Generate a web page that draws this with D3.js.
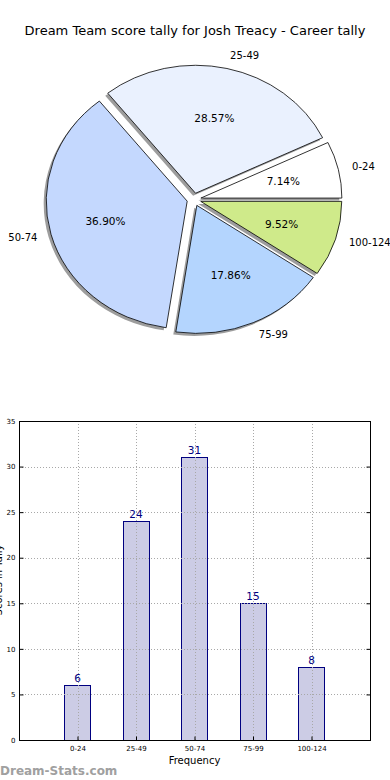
<!DOCTYPE html>
<html>
<head>
<meta charset="utf-8">
<script src="https://cdn.jsdelivr.net/npm/d3@7"></script>
<style>
  body { margin: 0; background: #fff; }
  text { font-family: "DejaVu Sans", sans-serif; }
</style>
</head>
<body>
<script>
/*global d3*/

var width = 390, height = 780;

// data
var categories = ["0-24", "25-49", "50-74", "75-99", "100-124"];
var counts = [6, 24, 31, 15, 8];
var sliceColors = ["#ffffff", "#eaf1fe", "#c4d8fe", "#b4d5fe", "#cfea8a"];
var yTicks = [0, 5, 10, 15, 20, 25, 30, 35];

var title = "Dream Team score tally for Josh Treacy - Career tally";

var svg = d3.select("body")
    .append("svg")
    .attr("width", width)
    .attr("height", height);

svg.append("text")
    .attr("x", 195)
    .attr("y", 35)
    .attr("text-anchor", "middle")
    .style("font-size", "13px")
    .text(title);

// ---- pie (matplotlib style: starts at 3 o'clock, counter clockwise, oval) ----
var cx = 194, cy = 199.5, rx = 141, ry = 128, explode = 0.05;
var total = d3.sum(counts);

var pie = d3.pie()
    .sort(null)
    .startAngle(Math.PI / 2)
    .endAngle(Math.PI / 2 - 2 * Math.PI);

var arcs = pie(counts);
var unitArc = d3.arc().innerRadius(0).outerRadius(1);

var pieG = svg.append("g");

arcs.forEach(function (d) {
    var a = (d.startAngle + d.endAngle) / 2;
    d.ox = cx + explode * rx * Math.sin(a);
    d.oy = cy - explode * ry * Math.cos(a);
    d.mid = a;
});

// shadows first
pieG.selectAll("path.shadow")
    .data(arcs)
    .enter().append("path")
    .attr("class", "shadow")
    .attr("d", unitArc)
    .attr("transform", function (d) {
        return "translate(" + (d.ox - 2.5) + "," + (d.oy + 2.5) + ") scale(" + rx + "," + ry + ")";
    })
    .attr("fill", "#8c8c8c")
    .attr("fill-opacity", 0.85);

pieG.selectAll("path.wedge")
    .data(arcs)
    .enter().append("path")
    .attr("class", "wedge")
    .attr("d", unitArc)
    .attr("transform", function (d) {
        return "translate(" + d.ox + "," + d.oy + ") scale(" + rx + "," + ry + ")";
    })
    .attr("fill", function (d, i) { return sliceColors[i]; })
    .attr("stroke", "#000")
    .attr("stroke-width", 0.8)
    .attr("vector-effect", "non-scaling-stroke");

// category labels at 1.1 radius
pieG.selectAll("text.cat")
    .data(arcs)
    .enter().append("text")
    .attr("class", "cat")
    .attr("x", function (d) { return d.ox + 1.1 * rx * Math.sin(d.mid); })
    .attr("y", function (d) { return d.oy - 1.1 * ry * Math.cos(d.mid); })
    .attr("dy", "0.35em")
    .attr("text-anchor", function (d) { return Math.sin(d.mid) > 0 ? "start" : "end"; })
    .style("font-size", "10px")
    .text(function (d, i) { return categories[i]; });

// percent labels at 0.6 radius
pieG.selectAll("text.pct")
    .data(arcs)
    .enter().append("text")
    .attr("class", "pct")
    .attr("x", function (d) { return d.ox + 0.6 * rx * Math.sin(d.mid); })
    .attr("y", function (d) { return d.oy - 0.6 * ry * Math.cos(d.mid); })
    .attr("dy", "0.35em")
    .attr("text-anchor", "middle")
    .style("font-size", "10.5px")
    .text(function (d) { return (d.value / total * 100).toFixed(2) + "%"; });

// ---- bar chart ----
var plotLeft = 19, plotRight = 370, plotTop = 421, plotBottom = 740;

var x = d3.scaleLinear().domain([-1, 5]).range([plotLeft, plotRight]);
var y = d3.scaleLinear().domain([0, 35]).range([plotBottom, plotTop]);
var barW = x(0.45) - x(0);

var barG = svg.append("g");

barG.selectAll("rect.bar")
    .data(counts)
    .enter().append("rect")
    .attr("class", "bar")
    .attr("x", function (d, i) { return Math.round(x(i) - barW / 2) + 0.5; })
    .attr("y", function (d) { return Math.round(y(d)) + 0.5; })
    .attr("width", Math.round(barW))
    .attr("height", function (d) { return Math.round(y(0)) - Math.round(y(d)); })
    .attr("fill", "#cccce5")
    .attr("stroke", "#000080")
    .attr("stroke-width", 1);

// grid
var grid = svg.append("g")
    .attr("stroke", "#a8a8a8")
    .attr("stroke-width", 1)
    .attr("stroke-dasharray", "1,2");

grid.selectAll("line.gy")
    .data(yTicks.slice(1, -1))
    .enter().append("line")
    .attr("x1", plotLeft).attr("x2", plotRight)
    .attr("y1", function (d) { return Math.round(y(d)) + 0.5; })
    .attr("y2", function (d) { return Math.round(y(d)) + 0.5; });

grid.selectAll("line.gx")
    .data(categories)
    .enter().append("line")
    .attr("y1", plotTop).attr("y2", plotBottom)
    .attr("x1", function (d, i) { return Math.round(x(i)) + 0.5; })
    .attr("x2", function (d, i) { return Math.round(x(i)) + 0.5; });

// frame
svg.append("rect")
    .attr("x", plotLeft + 0.5)
    .attr("y", plotTop + 0.5)
    .attr("width", plotRight - plotLeft)
    .attr("height", plotBottom - plotTop)
    .attr("fill", "none")
    .attr("stroke", "#000")
    .attr("stroke-width", 1);

// axes
var yAxis = d3.axisLeft(y).tickValues(yTicks).tickSize(-4).tickPadding(4);
var yAxisR = d3.axisRight(y).tickValues(yTicks).tickSize(-4).tickFormat("");
var xAxis = d3.axisBottom(x).tickValues(d3.range(categories.length))
    .tickSize(-4).tickPadding(6)
    .tickFormat(function (d) { return categories[d]; });

var gy = svg.append("g").attr("transform", "translate(" + (plotLeft + 0.5) + ",0)").call(yAxis);
var gyr = svg.append("g").attr("transform", "translate(" + (plotRight + 0.5) + ",0)").call(yAxisR);
var gx = svg.append("g").attr("transform", "translate(0," + (plotBottom + 0.5) + ")").call(xAxis);

[gy, gyr, gx].forEach(function (g) {
    g.select(".domain").remove();
    g.selectAll("text").style("font-size", "7px").attr("fill", "#000");
});

// value labels
barG.selectAll("text.val")
    .data(counts)
    .enter().append("text")
    .attr("class", "val")
    .attr("x", function (d, i) { return x(i); })
    .attr("y", function (d) { return y(d) - 3; })
    .attr("text-anchor", "middle")
    .attr("fill", "#000080")
    .style("font-size", "10.5px")
    .text(function (d) { return d; });

svg.append("text")
    .attr("x", x(2))
    .attr("y", 764)
    .attr("text-anchor", "middle")
    .style("font-size", "10px")
    .text("Frequency");

svg.append("text")
    .attr("transform", "translate(2,580) rotate(-90)")
    .attr("text-anchor", "middle")
    .style("font-size", "10px")
    .text("Scores in Tally");

svg.append("text")
    .attr("x", 0)
    .attr("y", 775)
    .attr("fill", "#a0a0a0")
    .style("font-size", "12px")
    .style("font-weight", "bold")
    .text("Dream-Stats.com");
</script>
</body>
</html>
